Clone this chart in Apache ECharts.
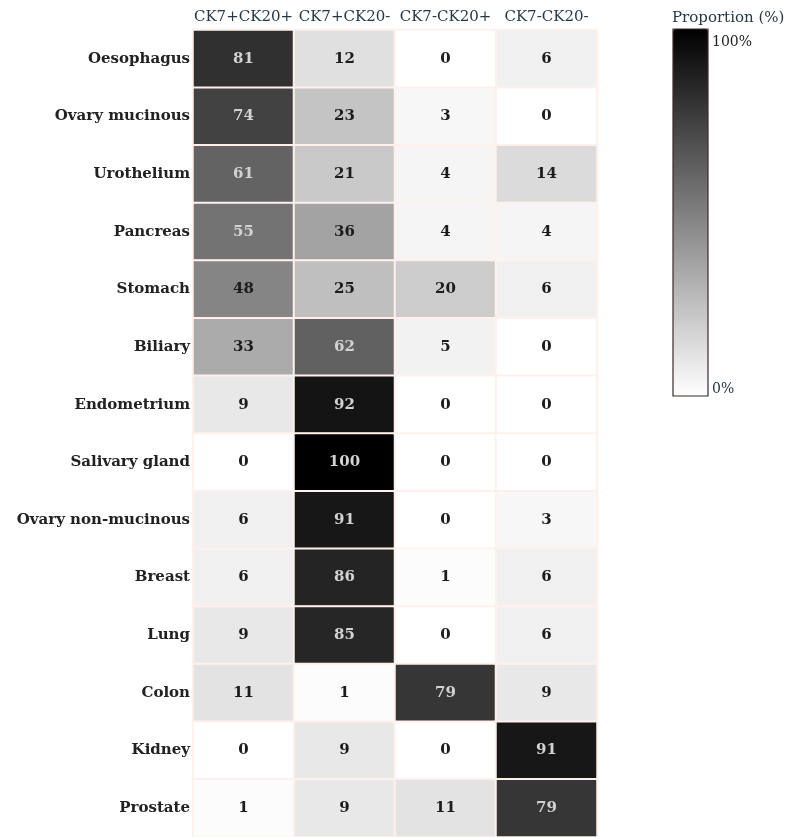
<!DOCTYPE html>
<html>
<head>
<meta charset="utf-8">
<script src="https://cdn.jsdelivr.net/npm/echarts@6/dist/echarts.min.js"></script>
<style>
  html, body { margin: 0; padding: 0; background: #fff; }
  #chart { width: 795px; height: 837px; }
</style>
</head>
<body>
<div id="chart"></div>
<script>
// Cytokeratin profiles per tumour site (percent of cases)
var markers = ['CK7+CK20+', 'CK7+CK20-', 'CK7-CK20+', 'CK7-CK20-'];
var sites = ['Oesophagus', 'Ovary mucinous', 'Urothelium', 'Pancreas', 'Stomach', 'Biliary',
  'Endometrium', 'Salivary gland', 'Ovary non-mucinous', 'Breast', 'Lung', 'Colon', 'Kidney', 'Prostate'];
var ck7pos_ck20pos = [81, 74, 61, 55, 48, 33, 9, 0, 6, 6, 9, 11, 0, 1];
var ck7pos_ck20neg = [12, 23, 21, 36, 25, 62, 92, 100, 91, 86, 85, 1, 9, 9];
var ck7neg_ck20pos = [0, 3, 4, 4, 20, 5, 0, 0, 0, 1, 0, 79, 0, 11];
var ck7neg_ck20neg = [6, 0, 14, 4, 6, 0, 0, 0, 3, 6, 6, 9, 91, 79];
var legendLabels = ['100%', '0%'];
var legendTitle = 'Proportion (%)';

var columns = [ck7pos_ck20pos, ck7pos_ck20neg, ck7neg_ck20pos, ck7neg_ck20neg];
var data = [];
columns.forEach(function (col, x) {
  col.forEach(function (v, y) {
    data.push({
      value: [x, y, v],
      label: { color: v >= 50 ? '#d2d2d2' : '#1c1c1c' }
    });
  });
});

var FONT = 'DejaVu Serif';
var chart = echarts.init(document.getElementById('chart'), null, { renderer: 'canvas' });
chart.setOption({
  backgroundColor: '#ffffff',
  animation: false,
  grid: { left: 193, top: 30, width: 404, height: 808, containLabel: false },
  xAxis: {
    type: 'category',
    position: 'top',
    data: markers,
    axisLine: { show: false },
    axisTick: { show: false },
    splitLine: { show: false },
    axisLabel: { margin: 5, fontFamily: FONT, fontSize: 15, color: '#243846', interval: 0 }
  },
  yAxis: {
    type: 'category',
    inverse: true,
    data: sites,
    axisLine: { show: false },
    axisTick: { show: false },
    splitLine: { show: false },
    axisLabel: { margin: 3, fontFamily: FONT, fontSize: 15, fontWeight: 'bold', color: '#222' }
  },
  visualMap: {
    type: 'continuous',
    min: 0,
    max: 100,
    calculable: false,
    orient: 'vertical',
    left: 673,
    top: 29,
    padding: 0,
    itemWidth: 35,
    itemHeight: 367,
    text: null,
    showLabel: false,
    inRange: { color: ['#ffffff', '#000000'] },
    textStyle: { fontFamily: FONT, fontSize: 14, color: '#222' }
  },
  graphic: [
    { type: 'rect', shape: { x: 673, y: 29, width: 35, height: 367 },
      style: { fill: 'none', stroke: '#3a2a28', lineWidth: 1.2 }, z: 100 },
    { type: 'text', left: 672, top: 11,
      style: { text: legendTitle, font: '15px "DejaVu Serif"', fill: '#243846' } },
    { type: 'text', left: 712, top: 35,
      style: { text: legendLabels[0], font: '14px "DejaVu Serif"', fill: '#222' } },
    { type: 'text', left: 712, top: 382,
      style: { text: legendLabels[1], font: '14px "DejaVu Serif"', fill: '#243846' } }
  ],
  series: [{
    type: 'heatmap',
    data: data,
    label: { show: true, fontFamily: FONT, fontSize: 15, fontWeight: 'bold',
      formatter: function (p) { return p.value[2]; } },
    itemStyle: { borderColor: '#fff1ea', borderWidth: 2 },
    emphasis: { disabled: true }
  }]
});
</script>
</body>
</html>
